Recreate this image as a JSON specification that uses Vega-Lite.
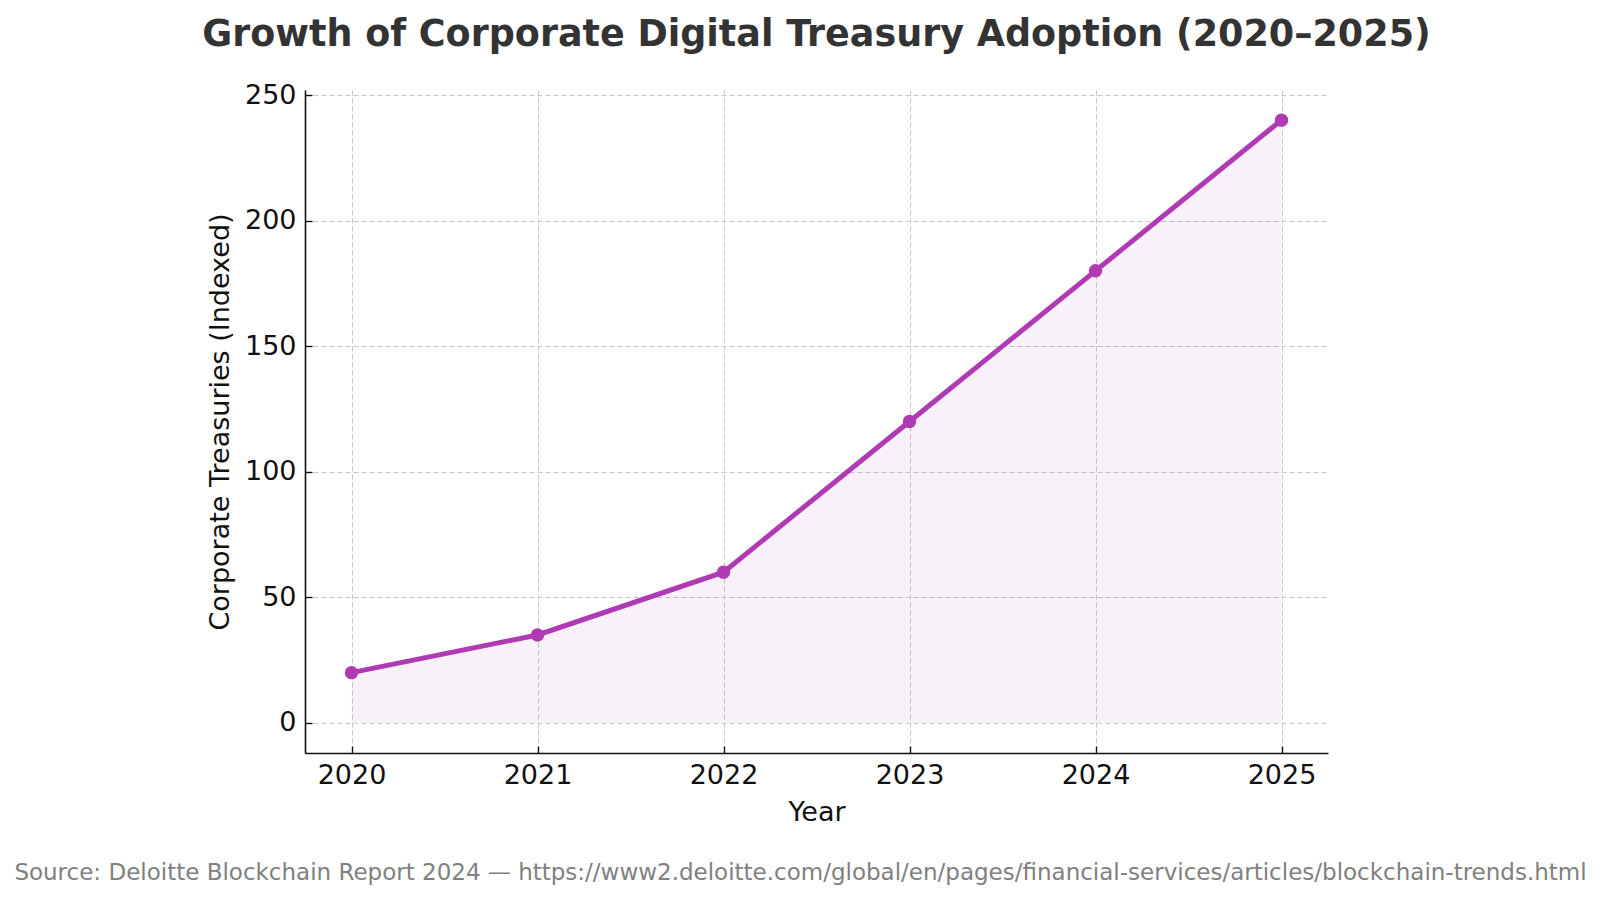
{
  "$schema": "https://vega.github.io/schema/vega-lite/v6.json",
  "background": "white",
  "padding": {"left": 14, "top": 16, "right": 5, "bottom": 5},
  "title": {
    "text": "Source: Deloitte Blockchain Report 2024 — https://www2.deloitte.com/global/en/pages/financial-services/articles/blockchain-trends.html",
    "orient": "bottom",
    "anchor": "middle",
    "font": "DejaVu Sans",
    "fontSize": 23,
    "fontWeight": "normal",
    "color": "#808080",
    "offset": 37,
    "dx": -16
  },
  "config": {
    "view": {"stroke": null},
    "font": "DejaVu Sans"
  },
  "vconcat": [
    {
      "width": 1023,
      "height": 663,
      "title": {
        "text": "Growth of Corporate Digital Treasury Adoption (2020–2025)",
        "anchor": "middle",
        "font": "DejaVu Sans",
        "fontSize": 36.5,
        "fontWeight": "bold",
        "color": "#333333",
        "offset": 28
      },
      "data": {
        "values": [
          {"year": 2020, "treasuries": 20},
          {"year": 2021, "treasuries": 35},
          {"year": 2022, "treasuries": 60},
          {"year": 2023, "treasuries": 120},
          {"year": 2024, "treasuries": 180},
          {"year": 2025, "treasuries": 240}
        ]
      },
      "encoding": {
        "x": {
          "field": "year",
          "type": "quantitative",
          "scale": {"domain": [2019.75, 2025.25], "nice": false, "zero": false},
          "axis": {
            "title": "Year",
            "values": [2020, 2021, 2022, 2023, 2024, 2025],
            "format": "d",
            "labelFontSize": 27,
            "titleFontSize": 27,
            "titleFontWeight": "normal",
            "labelColor": "#111111",
            "titleColor": "#111111",
            "domainColor": "#111111",
            "domainWidth": 1.6,
            "tickColor": "#111111",
            "tickSize": -7,
            "tickWidth": 1.4,
            "labelPadding": 16,
            "titlePadding": 11,
            "grid": true,
            "gridColor": "#c8c8c8",
            "gridDash": [5, 3],
            "gridWidth": 1
          }
        },
        "y": {
          "field": "treasuries",
          "type": "quantitative",
          "scale": {"domain": [-12, 252], "nice": false, "zero": false},
          "axis": {
            "title": "Corporate Treasuries (Indexed)",
            "values": [0, 50, 100, 150, 200, 250],
            "labelFontSize": 27,
            "titleFontSize": 27,
            "titleFontWeight": "normal",
            "labelColor": "#111111",
            "titleColor": "#111111",
            "domainColor": "#111111",
            "domainWidth": 1.6,
            "tickColor": "#111111",
            "tickSize": -7,
            "tickWidth": 1.4,
            "labelPadding": 16,
            "titlePadding": 10,
            "grid": true,
            "gridColor": "#c8c8c8",
            "gridDash": [5, 3],
            "gridWidth": 1
          }
        }
      },
      "layer": [
        {
          "mark": {"type": "area", "color": "#b03ab3", "opacity": 0.07},
          "encoding": {"y2": {"datum": 0}}
        },
        {
          "mark": {"type": "line", "color": "#b03ab3", "strokeWidth": 5}
        },
        {
          "mark": {"type": "point", "filled": true, "color": "#b03ab3", "opacity": 1, "size": 180}
        }
      ]
    }
  ]
}
